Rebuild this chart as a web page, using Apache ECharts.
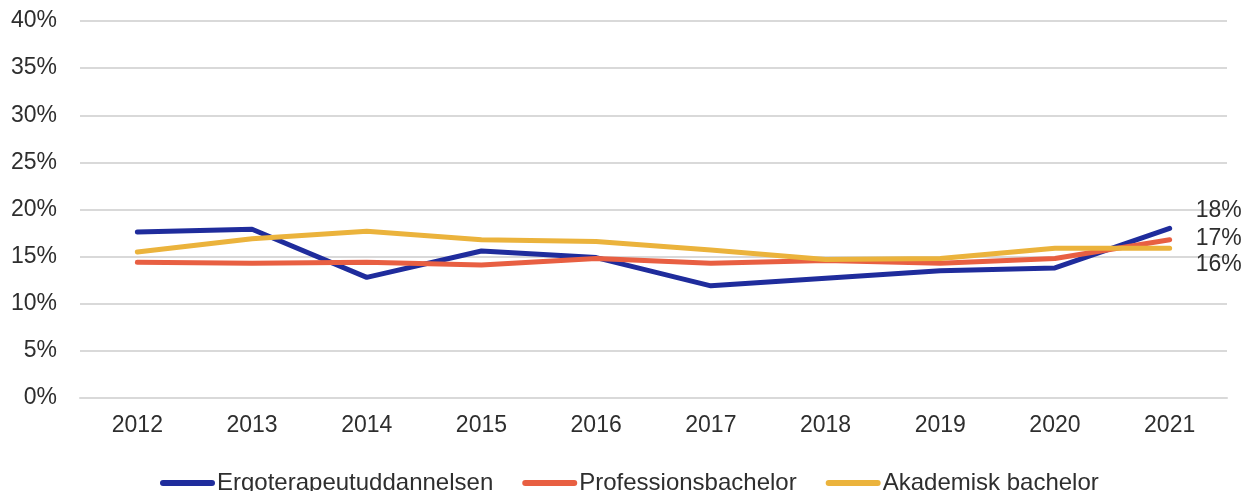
<!DOCTYPE html>
<html>
<head>
<meta charset="utf-8">
<script src="https://cdn.jsdelivr.net/npm/echarts@6/dist/echarts.min.js"></script>
<style>
  html, body { margin: 0; padding: 0; background: #fff; }
  #chart { width: 1244px; height: 491px; }
</style>
</head>
<body>
<div id="chart"></div>
<script>
const years = ['2012', '2013', '2014', '2015', '2016', '2017', '2018', '2019', '2020', '2021'];
const ergo = [17.6, 17.9, 12.8, 15.6, 14.9, 11.9, 12.7, 13.5, 13.8, 18.0];
const profBach = [14.4, 14.3, 14.4, 14.1, 14.8, 14.3, 14.6, 14.3, 14.8, 16.8];
const akadBach = [15.5, 16.9, 17.7, 16.8, 16.6, 15.7, 14.7, 14.8, 15.9, 15.9];
const endLabels = ['18%', '17%', '16%'];

const chart = echarts.init(document.getElementById('chart'));
const font = 'Arial, "Liberation Sans", sans-serif';
const txt = '#2e2e2e';
// capsule shape for legend icons
const capsule = 'path://M3,0 L52,0 A3,3 0 0 1 52,6 L3,6 A3,3 0 0 1 3,0 Z';

function mkSeries(name, data, color, label, dy) {
    return {
        name: name,
        type: 'line',
        data: data,
        symbol: 'none',
        lineStyle: { width: 5, color: color, cap: 'round', join: 'round' },
        itemStyle: { color: color },
        endLabel: {
            show: true,
            formatter: () => label,
            color: txt,
            fontFamily: font,
            fontSize: 23,
            distance: 26,
            offset: [0, dy]
        }
    };
}

chart.setOption({
    animation: false,
    grid: { left: 80, right: 17, top: 21, bottom: 93, containLabel: false },
    legend: {
        top: 466,
        left: 155,
        icon: capsule,
        itemWidth: 55,
        itemHeight: 6,
        itemGap: 29,
        textStyle: { color: txt, fontFamily: font, fontSize: 24, padding: [0, 0, 0, -3] },
        data: ['Ergoterapeutuddannelsen', 'Professionsbachelor', 'Akademisk bachelor']
    },
    xAxis: {
        type: 'category',
        data: years,
        boundaryGap: true,
        axisLine: { show: true, lineStyle: { color: '#d9d9d9', width: 2 } },
        axisTick: { show: false },
        axisLabel: { color: txt, fontFamily: font, fontSize: 23, margin: 16 }
    },
    yAxis: {
        type: 'value',
        min: 0,
        max: 40,
        interval: 5,
        axisLine: { show: false },
        axisTick: { show: false },
        splitLine: { lineStyle: { color: '#d9d9d9', width: 2 } },
        axisLabel: { color: txt, fontFamily: font, fontSize: 23, margin: 23, formatter: '{value}%' }
    },
    series: [
        mkSeries('Ergoterapeutuddannelsen', ergo, '#1f2c9c', endLabels[0], -18),
        mkSeries('Professionsbachelor', profBach, '#e85f42', endLabels[1], -1),
        mkSeries('Akademisk bachelor', akadBach, '#ebb33c', endLabels[2], 17)
    ]
});
</script>
</body>
</html>
